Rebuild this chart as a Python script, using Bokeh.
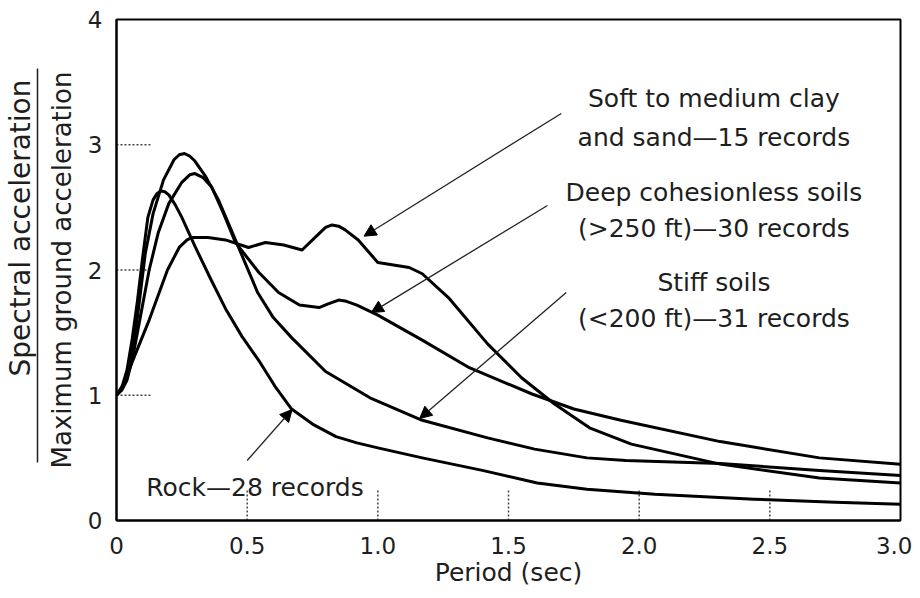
from bokeh.plotting import figure
from bokeh.models import (Label, Arrow, NormalHead, FixedTicker, Range1d, Title, LinearAxis)
from bokeh.embed import file_html
from bokeh.resources import INLINE

# ---- data ----
rock_x = [0, 0.02, 0.04, 0.06, 0.08, 0.10, 0.12, 0.14, 0.155, 0.17, 0.185, 0.20, 0.225, 0.25, 0.30, 0.36, 0.42, 0.48, 0.55, 0.61, 0.67, 0.75, 0.84, 0.92, 1.0, 1.17, 1.4, 1.61, 1.8, 2.06, 2.44, 2.75, 3.0]
rock_y = [1.0, 1.06, 1.2, 1.45, 1.75, 2.1, 2.42, 2.56, 2.61, 2.63, 2.625, 2.6, 2.52, 2.42, 2.19, 1.93, 1.68, 1.47, 1.26, 1.06, 0.89, 0.77, 0.67, 0.62, 0.58, 0.50, 0.40, 0.30, 0.25, 0.21, 0.17, 0.145, 0.13]

stiff_x = [0, 0.02, 0.04, 0.06, 0.08, 0.11, 0.14, 0.18, 0.22, 0.24, 0.26, 0.28, 0.30, 0.34, 0.39, 0.455, 0.54, 0.60, 0.67, 0.80, 0.97, 1.17, 1.42, 1.6, 1.80, 1.95, 2.1, 2.31, 2.69, 3.0]
stiff_y = [1.0, 1.05, 1.15, 1.35, 1.62, 2.13, 2.45, 2.72, 2.88, 2.92, 2.93, 2.91, 2.87, 2.75, 2.56, 2.24, 1.82, 1.62, 1.46, 1.19, 0.98, 0.80, 0.66, 0.57, 0.50, 0.48, 0.47, 0.455, 0.40, 0.36]

deep_x = [0, 0.02, 0.04, 0.06, 0.08, 0.125, 0.16, 0.20, 0.25, 0.28, 0.30, 0.33, 0.365, 0.41, 0.455, 0.545, 0.62, 0.70, 0.775, 0.81, 0.85, 0.88, 0.92, 1.0, 1.17, 1.35, 1.59, 1.75, 1.93, 2.31, 2.69, 3.0]
deep_y = [1.0, 1.04, 1.12, 1.28, 1.5, 2.0, 2.3, 2.53, 2.7, 2.76, 2.77, 2.74, 2.66, 2.45, 2.22, 1.98, 1.82, 1.72, 1.70, 1.73, 1.76, 1.75, 1.72, 1.64, 1.44, 1.22, 1.01, 0.89, 0.80, 0.63, 0.50, 0.45]

clay_x = [0, 0.03, 0.057, 0.09, 0.125, 0.16, 0.195, 0.24, 0.27, 0.29, 0.35, 0.417, 0.505, 0.57, 0.64, 0.71, 0.77, 0.80, 0.825, 0.85, 0.875, 0.925, 1.0, 1.06, 1.12, 1.17, 1.27, 1.42, 1.55, 1.676, 1.81, 1.97, 2.31, 2.69, 3.0]
clay_y = [1.0, 1.1, 1.25, 1.42, 1.6, 1.8, 2.0, 2.18, 2.24, 2.26, 2.26, 2.24, 2.18, 2.22, 2.2, 2.16, 2.28, 2.34, 2.36, 2.35, 2.32, 2.24, 2.06, 2.04, 2.02, 1.97, 1.78, 1.41, 1.14, 0.93, 0.74, 0.61, 0.45, 0.34, 0.30]

x_ticks = [0, 0.5, 1.0, 1.5, 2.0, 2.5, 3.0]
x_tick_labels = ["0", "0.5", "1.0", "1.5", "2.0", "2.5", "3.0"]
y_ticks = [0, 1, 2, 3, 4]
y_tick_labels = ["0", "1", "2", "3", "4"]

FONT = "DejaVu Sans"
INK = "#1e1e1e"

p = figure(width=912, height=590, output_backend="svg", toolbar_location=None,
           x_range=Range1d(0, 3.0), y_range=Range1d(0, 4),
           min_border_left=114, min_border_right=12, min_border_top=19, min_border_bottom=70)
p.background_fill_color = "white"
p.border_fill_color = "white"
p.grid.visible = False
p.outline_line_color = "black"
p.outline_line_width = 2

for ax in (p.xaxis[0], p.yaxis[0]):
    ax.major_tick_line_color = None
    ax.minor_tick_line_color = None
    ax.axis_line_color = "black"
    ax.axis_line_width = 2
    ax.major_label_text_font = FONT
    ax.major_label_text_font_size = "23px"
    ax.major_label_text_color = INK

p.xaxis.ticker = FixedTicker(ticks=x_ticks)
p.xaxis.major_label_overrides = {t: l for t, l in zip(x_ticks, x_tick_labels)}
p.xaxis.major_label_standoff = 10
p.xaxis.axis_label = "Period (sec)"
p.xaxis.axis_label_text_font = FONT
p.xaxis.axis_label_text_font_size = "25px"
p.xaxis.axis_label_text_font_style = "normal"
p.xaxis.axis_label_text_color = INK
p.xaxis.axis_label_standoff = 1

p.yaxis.ticker = FixedTicker(ticks=y_ticks)
p.yaxis.major_label_overrides = {t: l for t, l in zip(y_ticks, y_tick_labels)}
p.yaxis.major_label_standoff = 8

# dotted inner tick marks
p.segment(x0=[0] * 3, y0=y_ticks[1:4], x1=[0.13] * 3, y1=y_ticks[1:4],
          line_color="#444444", line_width=1.5, line_dash="2 2")
p.segment(x0=x_ticks[1:6], y0=[0] * 5, x1=x_ticks[1:6], y1=[0.24] * 5,
          line_color="#444444", line_width=1.5, line_dash="2 2")

# curves
for xs, ys in ((rock_x, rock_y), (stiff_x, stiff_y), (deep_x, deep_y), (clay_x, clay_y)):
    p.line(xs, ys, line_color="black", line_width=3, line_join="round")

# arrows
arrows = [
    (1.702, 3.25, 0.947, 2.27),
    (1.649, 2.515, 0.975, 1.66),
    (1.721, 1.82, 1.160, 0.814),
    (0.50, 0.479, 0.672, 0.886),
]
for xs, ys, xe, ye in arrows:
    p.add_layout(Arrow(x_start=xs, y_start=ys, x_end=xe, y_end=ye,
                       line_color="#222222", line_width=1.3,
                       end=NormalHead(size=12, fill_color="black", line_color="black")))

# annotation texts
texts = [
    ("Soft to medium clay", 2.286, 3.37),
    ("and sand\u201415 records", 2.286, 3.06),
    ("Deep cohesionless soils", 2.286, 2.62),
    ("(>250 ft)\u201430 records", 2.286, 2.33),
    ("Stiff soils", 2.286, 1.90),
    ("(<200 ft)\u201431 records", 2.286, 1.61),
    ("Rock\u201428 records", 0.53, 0.26),
]
for t, x, y in texts:
    p.add_layout(Label(x=x, y=y, text=t, text_align="center", text_baseline="middle",
                       text_font=FONT, text_font_size="25px", text_color=INK))

# y-axis label as a fraction (two titles with a rule between them)
t_max = Title(text="Maximum ground acceleration", align="center", standoff=15,
              text_font=FONT, text_font_size="26px", text_font_style="normal", text_color=INK)
p.add_layout(t_max, "left")
rule = LinearAxis(bounds=(0.46, 3.61), ticker=FixedTicker(ticks=[]),
                  major_tick_line_color=None, minor_tick_line_color=None,
                  major_label_text_font_size="0px", major_label_standoff=0,
                  axis_line_width=1.5, axis_line_color=INK)
p.add_layout(rule, "left")
t_spec = Title(text="Spectral acceleration", align="right", offset=60, standoff=2,
               text_font=FONT, text_font_size="28px", text_font_style="normal", text_color=INK)
p.add_layout(t_spec, "left")

open("out.html", "w").write(file_html(p, INLINE))
